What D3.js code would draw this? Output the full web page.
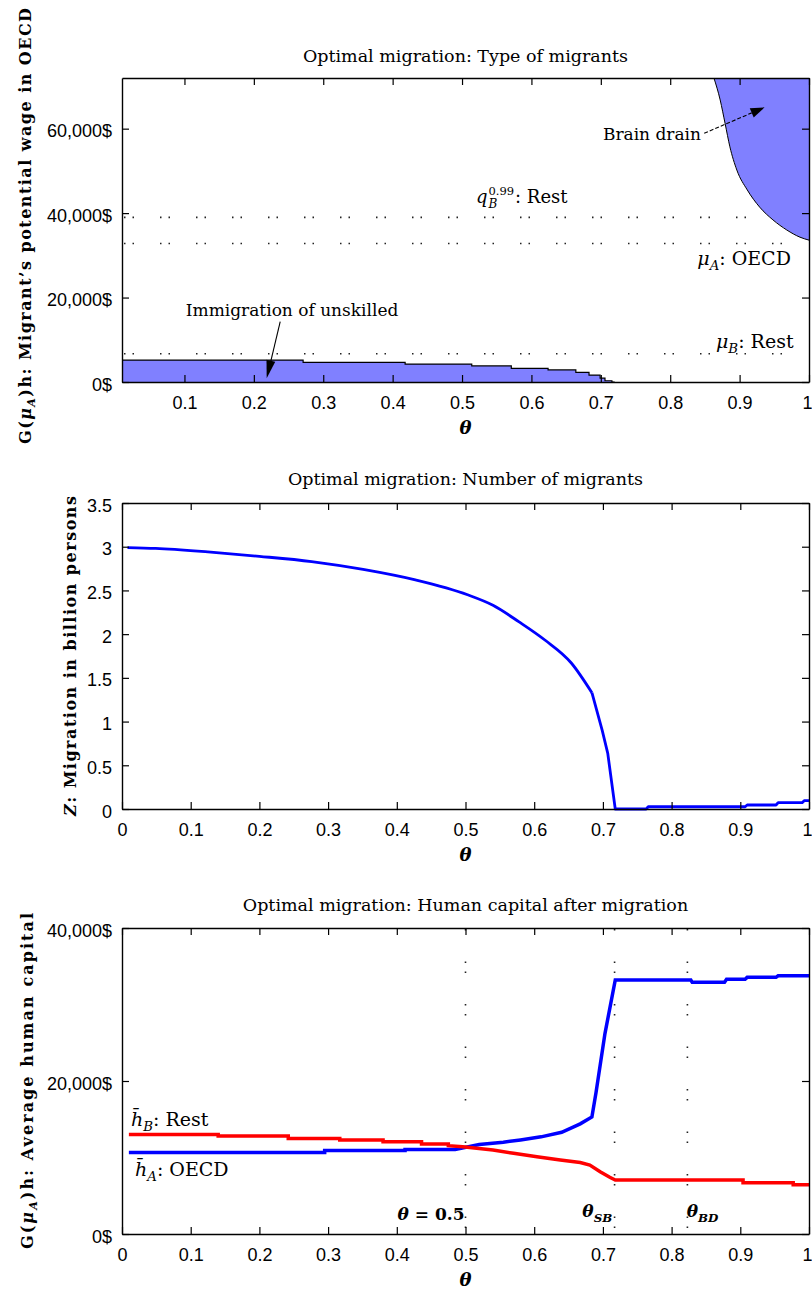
<!DOCTYPE html>
<html>
<head>
<meta charset="utf-8">
<script src="https://cdn.jsdelivr.net/npm/d3@7"></script>
<style>
  body { margin: 0; background: #fff; }
  .tick text { font-family: "Liberation Sans", Arial, sans-serif; font-size: 18px; fill: #000; }
  .serif { font-family: "DejaVu Serif", serif; fill: #000; }
</style>
</head>
<body>
<svg id="fig" width="812" height="1293"></svg>
<script>
// ---- data ----
const thetaTicksA = [0.1, 0.2, 0.3, 0.4, 0.5, 0.6, 0.7, 0.8, 0.9, 1];
const thetaTicksB = [0, 0.1, 0.2, 0.3, 0.4, 0.5, 0.6, 0.7, 0.8, 0.9, 1];

// panel 1: type of migrants (wage in $)
const wageTicks = [0, 20000, 40000, 60000];
const unskilledTheta = [0.01, 0.271, 0.418, 0.514, 0.571, 0.624, 0.664, 0.683, 0.699, 0.706, 0.716, 0.72];
const unskilledWage  = [5200, 4650, 4250, 3800, 3250, 2850, 2300, 1650, 900, 300, 0, 0];
const brainTheta = [0.863, 0.872, 0.879, 0.886, 0.896, 0.911, 0.929, 0.948, 0.968, 0.987, 1.0];
const brainWage  = [72000, 66800, 61300, 55700, 50200, 45500, 41400, 38400, 36000, 34300, 33600];
const refWages = [39000, 32800, 6700]; // q_B^0.99, mu_A, mu_B

// panel 2: number of migrants (billions)
const zTicks = [0, 0.5, 1, 1.5, 2, 2.5, 3, 3.5];
const zTheta = [0.008, 0.049, 0.125, 0.2, 0.276, 0.351, 0.427, 0.503, 0.54, 0.578, 0.616, 0.654, 0.684, 0.699, 0.707, 0.718,
                0.763, 0.766, 0.907, 0.91, 0.952, 0.955, 0.99, 0.993, 1.0];
const zValue = [2.99, 2.98, 2.94, 2.89, 2.83, 2.74, 2.62, 2.45, 2.33, 2.14, 1.93, 1.67, 1.33, 0.90, 0.64, 0,
                0, 0.026, 0.026, 0.046, 0.046, 0.072, 0.072, 0.095, 0.095];
const zKnee = 12; // index of the corner at theta ~ 0.684

// panel 3: human capital after migration ($)
const capTicks = [0, 20000, 40000];
const hATheta = [0.01, 0.295, 0.295, 0.412, 0.412, 0.485, 0.52, 0.555, 0.58, 0.61, 0.64, 0.667, 0.684, 0.69, 0.703, 0.718,
                 0.828, 0.83, 0.877, 0.88, 0.907, 0.91, 0.952, 0.955, 1.0];
const hAValue = [10650, 10650, 10900, 10900, 11050, 11050, 11700, 12000, 12300, 12700, 13300, 14400, 15300, 18500, 26200, 33200,
                 33200, 32900, 32900, 33300, 33300, 33550, 33550, 33750, 33750];
const hBTheta = [0.01, 0.14, 0.14, 0.242, 0.242, 0.317, 0.317, 0.38, 0.38, 0.436, 0.436, 0.475, 0.475, 0.496, 0.54, 0.57,
                 0.604, 0.638, 0.667, 0.681, 0.696, 0.71, 0.718, 0.904, 0.904, 0.977, 0.977, 1.0];
const hBValue = [13000, 13000, 12800, 12800, 12500, 12500, 12300, 12300, 12050, 12050, 11760, 11760, 11540, 11400, 10980, 10550,
                 10100, 9670, 9350, 9020, 8140, 7410, 7060, 7060, 6710, 6710, 6450, 6450];
const markerTheta = [0.5, 0.717, 0.823];

// ---- layout ----
const svg = d3.select('#fig');
const left = 122, right = 809;
const blue = '#0000ff', red = '#ff0000', fillBlue = '#8080ff';

function drawFrame(x, y, xTicks, yTicks, yFmt) {
  const [yb, yt] = y.range();
  const g = svg.append('g');
  const axes = [
    g.append('g').attr('transform', `translate(0,${yb})`)
      .call(d3.axisBottom(x).tickValues(xTicks).tickSizeInner(-7).tickSizeOuter(0).tickPadding(14.7).tickFormat(d => String(d))),
    g.append('g').attr('transform', `translate(0,${yt})`)
      .call(d3.axisTop(x).tickValues(xTicks).tickSizeInner(-7).tickSizeOuter(0).tickFormat('')),
    g.append('g').attr('transform', `translate(${left},0)`)
      .call(d3.axisLeft(y).tickValues(yTicks).tickSizeInner(-7).tickSizeOuter(0).tickPadding(10).tickFormat(yFmt)),
    g.append('g').attr('transform', `translate(${right},0)`)
      .call(d3.axisRight(y).tickValues(yTicks).tickSizeInner(-7).tickSizeOuter(0).tickFormat(''))
  ];
  axes.forEach(a => {
    a.select('.domain').attr('stroke', '#000').attr('stroke-width', 1.4);
    a.selectAll('.tick line').attr('stroke', '#000').attr('stroke-width', 1.2);
  });
  axes[2].selectAll('.tick text').attr('dy', '0.45em');
  // keep the last theta label ("1") inside the picture, as in the original
  axes[0].selectAll('.tick text').filter(d => d === 1).attr('text-anchor', 'end').attr('x', 3);
  g.selectAll('.tick text').attr('font-family', null).attr('font-size', null);
  svg.append('text').attr('class', 'serif')
    .attr('x', (left + right) / 2).attr('y', yb + 52)
    .attr('text-anchor', 'middle').attr('font-size', 18)
    .attr('font-style', 'italic').attr('font-weight', 'bold').text('θ');
}

function title(txt, yBase) {
  svg.append('text').attr('class', 'serif')
    .attr('x', (left + right) / 2).attr('y', yBase)
    .attr('text-anchor', 'middle').attr('font-size', 17.5).text(txt);
}

function yLabel(parts, xBase, yCenter, len) {
  const t = svg.append('text').attr('class', 'serif')
    .attr('transform', `translate(${xBase},${yCenter}) rotate(-90)`)
    .attr('text-anchor', 'middle').attr('font-size', 16).attr('font-weight', 'bold')
    .attr('textLength', len).attr('lengthAdjust', 'spacing');
  parts.forEach(p => {
    const s = t.append('tspan').text(p.t);
    if (p.it) s.attr('font-style', 'italic');
    if (p.dy) s.attr('dy', p.dy);
    if (p.fs) s.attr('font-size', p.fs);
  });
}

const wageFmt = d => d === 0 ? '0$' : d3.format(',')(d) + '$';

function arrow(xa, ya, xb, yb, headLen, headW, dash) {
  const ang = Math.atan2(yb - ya, xb - xa);
  const bx = xb - headLen * Math.cos(ang), by = yb - headLen * Math.sin(ang);
  svg.append('line').attr('x1', xa).attr('y1', ya).attr('x2', bx).attr('y2', by)
    .attr('stroke', '#000').attr('stroke-width', 1.1).attr('stroke-dasharray', dash || null);
  const px = -Math.sin(ang) * headW / 2, py = Math.cos(ang) * headW / 2;
  svg.append('path')
    .attr('d', `M${xb},${yb}L${bx + px},${by + py}L${bx - px},${by - py}Z`)
    .attr('fill', '#000');
}

function subLabel(x, y, main, sub, rest, size, bold) {
  const t = svg.append('text').attr('class', 'serif').attr('font-size', size)
    .attr('x', x).attr('y', y).attr('font-weight', bold ? 'bold' : null);
  t.append('tspan').attr('font-style', 'italic').text(main);
  t.append('tspan').attr('font-style', 'italic').attr('font-size', size * 0.7).attr('dy', 5).text(sub);
  if (rest) t.append('tspan').attr('dy', -5).text(rest);
  return t;
}

// ================= panel 1 =================
const x1 = d3.scaleLinear().domain([0.01, 1]).range([left, right]);
const y1 = d3.scaleLinear().domain([0, 72000]).range([382, 78]);

title('Optimal migration:  Type of migrants', 62);

svg.append('g').selectAll('line').data(refWages).join('line')
  .attr('x1', left + 2).attr('x2', right - 2)
  .attr('y1', d => y1(d)).attr('y2', d => y1(d))
  .attr('stroke', '#222').attr('stroke-width', 1.6)
  .attr('stroke-dasharray', '1.5 7 1.5 26');

const unskilled = unskilledTheta.map((t, i) => ({ t, v: unskilledWage[i] }));
svg.append('path').datum(unskilled)
  .attr('d', d3.area().curve(d3.curveStepAfter).x(d => x1(d.t)).y0(y1(0)).y1(d => y1(d.v)))
  .attr('fill', fillBlue);
svg.append('path').datum(unskilled)
  .attr('d', d3.line().curve(d3.curveStepAfter).x(d => x1(d.t)).y(d => y1(d.v)))
  .attr('fill', 'none').attr('stroke', '#000').attr('stroke-width', 1.2);

const brain = brainTheta.map((t, i) => ({ t, v: brainWage[i] }));
svg.append('path').datum(brain)
  .attr('d', d3.area().curve(d3.curveMonotoneX).x(d => x1(d.t)).y0(y1(72000)).y1(d => y1(d.v)))
  .attr('fill', fillBlue);
svg.append('path').datum(brain)
  .attr('d', d3.line().curve(d3.curveMonotoneX).x(d => x1(d.t)).y(d => y1(d.v)))
  .attr('fill', 'none').attr('stroke', '#000').attr('stroke-width', 1);

svg.append('text').attr('class', 'serif').attr('font-size', 17)
  .attr('x', x1(0.102)).attr('y', y1(15630)).text('Immigration of unskilled');
arrow(x1(0.238), y1(14280), x1(0.2185), y1(880), 18, 9);

svg.append('text').attr('class', 'serif').attr('font-size', 17)
  .attr('x', x1(0.703)).attr('y', y1(57300)).text('Brain drain');
arrow(x1(0.849), y1(58900), x1(0.936), y1(65050), 14, 10, '4 2');

// q_B^0.99 : Rest
{
  const qx = x1(0.520), qy = y1(42390);
  const q = svg.append('text').attr('class', 'serif').attr('font-size', 18)
    .attr('font-style', 'italic').attr('x', qx).attr('y', qy).text('q');
  const w = q.node().getComputedTextLength();
  const sup = svg.append('text').attr('class', 'serif').attr('font-size', 11.5)
    .attr('x', qx + w + 1).attr('y', qy - 8).text('0.99');
  svg.append('text').attr('class', 'serif').attr('font-size', 12).attr('font-style', 'italic')
    .attr('x', qx + w + 1).attr('y', qy + 5).text('B');
  const ws = sup.node().getComputedTextLength();
  svg.append('text').attr('class', 'serif').attr('font-size', 18)
    .attr('x', qx + w + ws + 2).attr('y', qy).text(': Rest');
}

subLabel(x1(0.839), y1(27700), 'μ', 'A', ': OECD', 19);
subLabel(x1(0.866), y1(8050), 'μ', 'B', ': Rest', 19);

drawFrame(x1, y1, thetaTicksA, wageTicks, wageFmt);
yLabel([{ t: 'G(' }, { t: 'μ', it: true }, { t: 'A', it: true, dy: 4, fs: 11 }, { t: ')h:  Migrant\u2019s potential wage in OECD', dy: -4 }], 31, 226, 436);

// ================= panel 2 =================
const x2 = d3.scaleLinear().domain([0, 1]).range([left, right]);
const y2 = d3.scaleLinear().domain([0, 3.5]).range([809, 503]);

title('Optimal migration:  Number of migrants', 485);

const zData = zTheta.map((t, i) => ({ t, v: zValue[i] }));
// smooth part up to the corner, straight segments after it
svg.append('path').datum(zData.slice(0, zKnee + 1))
  .attr('d', d3.line().curve(d3.curveMonotoneX).x(d => x2(d.t)).y(d => y2(d.v)))
  .attr('fill', 'none').attr('stroke', blue).attr('stroke-width', 2.8);
svg.append('path').datum(zData.slice(zKnee))
  .attr('d', d3.line().x(d => x2(d.t)).y(d => y2(d.v)))
  .attr('fill', 'none').attr('stroke', blue).attr('stroke-width', 2.8)
  .attr('stroke-linejoin', 'round');

drawFrame(x2, y2, thetaTicksB, zTicks, d => String(d));
yLabel([{ t: 'Z', it: true }, { t: ':  Migration in billion persons' }], 76, 656, 320);

// ================= panel 3 =================
const x3 = d3.scaleLinear().domain([0, 1]).range([left, right]);
const y3 = d3.scaleLinear().domain([0, 40000]).range([1234, 928]);

title('Optimal migration:  Human capital after migration', 911);

svg.append('g').selectAll('line').data(markerTheta).join('line')
  .attr('x1', d => x3(d)).attr('x2', d => x3(d))
  .attr('y1', y3(0) - 6).attr('y2', y3(40000))
  .attr('stroke', '#222').attr('stroke-width', 1.6)
  .attr('stroke-dasharray', '1.5 8.5 1.5 31');

const hA = hATheta.map((t, i) => ({ t, v: hAValue[i] }));
const hB = hBTheta.map((t, i) => ({ t, v: hBValue[i] }));
const line3 = d3.line().x(d => x3(d.t)).y(d => y3(d.v));
svg.append('path').datum(hA).attr('d', line3)
  .attr('fill', 'none').attr('stroke', blue).attr('stroke-width', 3.5);
svg.append('path').datum(hB).attr('d', line3)
  .attr('fill', 'none').attr('stroke', red).attr('stroke-width', 3.5);

subLabel(x3(0.013), y3(14120), 'h\u0304', 'B', ': Rest', 19);
subLabel(x3(0.019), y3(7580), 'h\u0304', 'A', ': OECD', 19);

svg.append('text').attr('class', 'serif').attr('font-size', 17).attr('font-weight', 'bold')
  .attr('x', x3(0.4985)).attr('y', y3(1830)).attr('text-anchor', 'end')
  .html('<tspan font-style="italic">θ</tspan> = 0.5');
subLabel(x3(0.67), y3(2220), 'θ', 'SB', null, 17, true);
subLabel(x3(0.822), y3(2220), 'θ', 'BD', null, 17, true);

drawFrame(x3, y3, thetaTicksB, capTicks, wageFmt);
yLabel([{ t: 'G(' }, { t: 'μ', it: true }, { t: 'A', it: true, dy: 4, fs: 11 }, { t: ')h:  Average human capital', dy: -4 }], 33, 1081, 336);
</script>
</body>
</html>
